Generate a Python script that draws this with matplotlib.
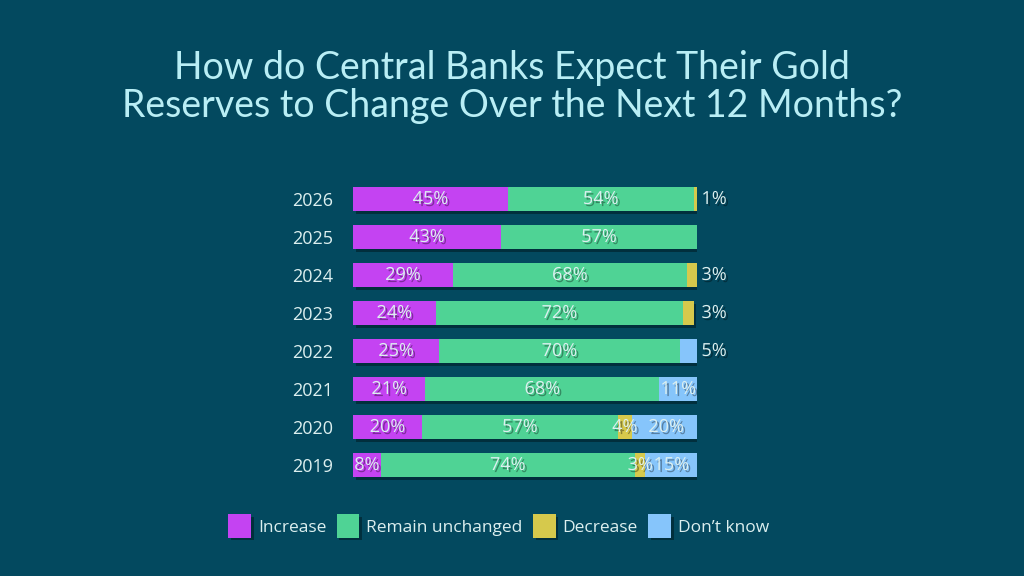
import numpy as np
import matplotlib.pyplot as plt
import matplotlib.patheffects as pe
from matplotlib.patches import Patch

# donnees ######################################################################
years = ["2026", "2025", "2024", "2023", "2022", "2021", "2020", "2019"]
increase = [45, 43, 29, 24, 25, 21, 20, 8]
unchanged = [54, 57, 68, 72, 70, 68, 57, 74]
decrease = [1, 0, 3, 3, 0, 0, 4, 3]
dont_know = [0, 0, 0, 0, 5, 11, 20, 15]

series = [increase, unchanged, decrease, dont_know]
names = ["Increase", "Remain unchanged", "Decrease", "Don\u2019t know"]
colors = ["#c443f2", "#4fd395", "#d6c94c", "#86c5fb"]

bg = "#03495f"
txt = "#dcefef"
font = "Open Sans"

# figure #######################################################################
fig = plt.figure(figsize=(10.24, 5.76), dpi=100, facecolor=bg)
ax = fig.add_axes([353 / 1024, 1 - 484 / 576, 344 / 1024, 304 / 576])
ax.set_facecolor(bg)

y = np.arange(len(years))
bar_fx = [pe.SimplePatchShadow(offset=(2, -2), alpha=0.35, shadow_rgbFace="black"), pe.Normal()]
txt_fx = [pe.SimplePatchShadow(offset=(1.5, -1.5), alpha=0.35, shadow_rgbFace="black"), pe.Normal()]

left = np.zeros(len(years))
for vals, name, c in zip(series, names, colors):
    vals = np.array(vals, dtype=float)
    bars = ax.barh(y, vals, left=left, height=0.63, color=c, label=name, zorder=2)
    for b in bars:
        b.set_path_effects(bar_fx)
    for i, v in enumerate(vals):
        if v == 0:
            continue
        end = left[i] + v
        # petites valeurs en bout de barre -> etiquette a l'exterieur
        rest = sum(s[i] for s in series) - end
        if v <= 5 and rest <= 0:
            ax.text(100 + 1.3, y[i], f"{int(v)}%", ha="left", va="center",
                    color=txt, fontsize=13, family=font, path_effects=txt_fx, zorder=3)
        else:
            ax.text(left[i] + v / 2, y[i], f"{int(v)}%", ha="center", va="center",
                    color=txt, fontsize=13, family=font, path_effects=txt_fx, zorder=3)
    left += vals

ax.set_xlim(0, 100)
ax.set_ylim(len(years) - 0.5, -0.5)
ax.set_yticks(y)
ax.set_yticklabels(years, color=txt, fontsize=13, family=font)
ax.tick_params(axis="y", length=0, pad=14)
ax.set_xticks([])
for s in ax.spines.values():
    s.set_visible(False)

fig.text(0.5, 1 - 87 / 576, "How do Central Banks Expect Their Gold\nReserves to Change Over the Next 12 Months?",
         ha="center", va="center", color="#b9eef5", fontsize=27, family="Lato",
         linespacing=1.08)

handles = [Patch(facecolor=c, label=n, path_effects=bar_fx) for c, n in zip(colors, names)]
leg = fig.legend(handles=handles, loc="center", bbox_to_anchor=(0.487, 1 - 526 / 576), ncol=4,
                 frameon=False, handlelength=1.3, handleheight=1.7, handletextpad=0.4,
                 columnspacing=0.6, prop={"family": font, "size": 12.5})
for t in leg.get_texts():
    t.set_color(txt)

fig.savefig("out.png", dpi=100, facecolor=bg)
